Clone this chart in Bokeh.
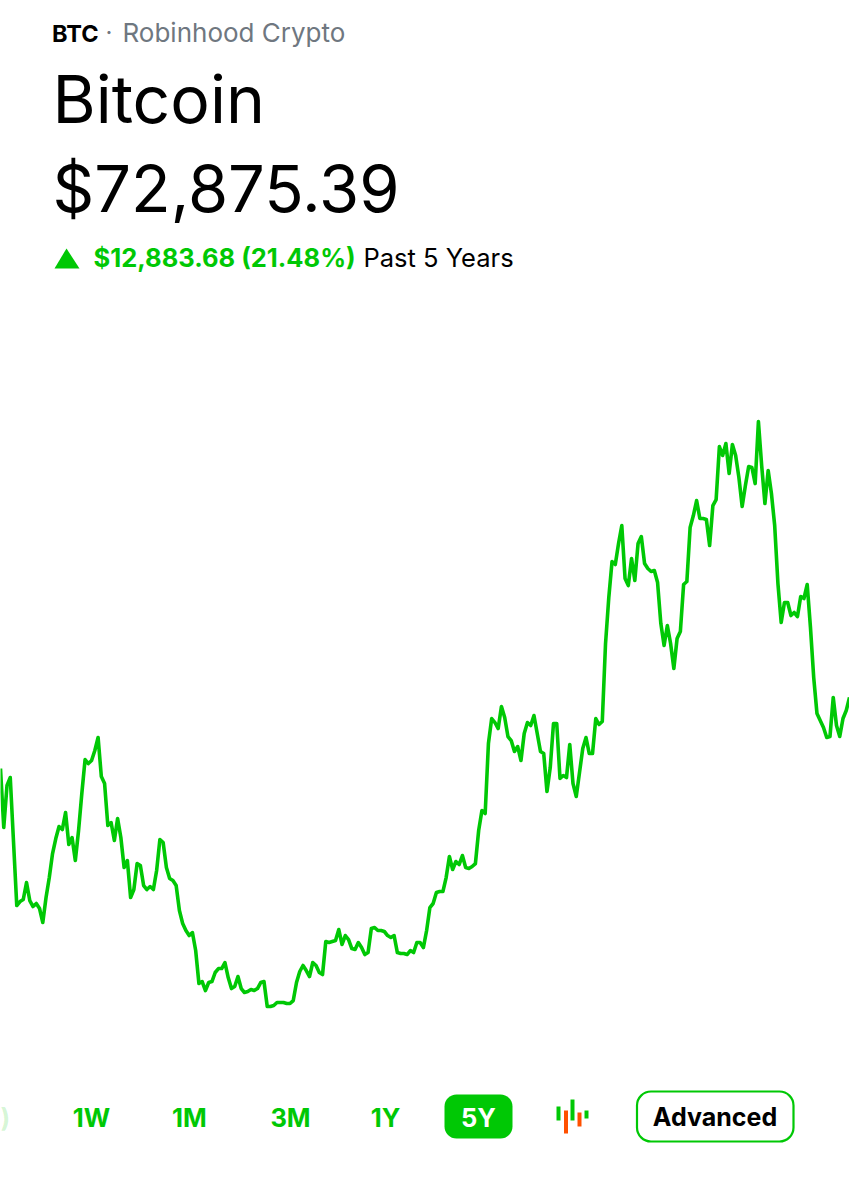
from bokeh.embed import file_html
from bokeh.resources import INLINE
from bokeh.plotting import figure
from bokeh.models import Range1d
from bokeh.core.properties import value

# Bitcoin price over the past five years, thousands of USD
price_k = [
 59.99,49.29,56.91,58.36,46.70,35.13,35.86,36.22,39.31,36.04,34.95,35.50,34.59,32.05,36.58,40.21,44.57,47.29,49.47,48.92,52.01,
 46.20,47.47,43.30,48.74,55.46,61.62,60.90,61.44,63.26,65.62,58.54,57.27,49.65,50.19,46.93,50.92,47.47,42.03,43.30,36.58,
 38.04,42.75,42.39,38.76,38.04,38.58,38.04,41.48,47.11,46.56,42.03,40.03,39.67,38.76,34.23,31.87,30.60,29.69,30.23,26.97,
 20.98,21.34,19.71,21.16,21.34,22.98,23.70,23.70,24.79,22.07,20.07,20.44,22.25,20.07,19.35,19.53,19.89,19.71,20.07,21.16,
 21.34,16.81,16.81,16.99,17.53,17.53,17.53,17.35,17.35,17.89,21.16,23.16,24.25,23.34,22.25,24.79,24.25,22.98,22.61,28.60,
 28.42,28.60,28.78,30.78,28.06,29.69,28.96,27.33,27.15,28.42,27.51,26.24,26.60,30.96,31.14,30.60,30.60,30.42,29.69,29.33,
 29.69,26.60,26.42,26.42,26.24,26.97,26.60,28.42,28.42,27.51,30.60,34.77,35.50,37.49,37.67,37.67,40.21,44.02,41.67,43.12,
 42.57,44.21,42.03,41.85,42.21,42.75,48.74,52.37,51.83,64.53,69.06,68.34,67.25,71.24,69.25,65.80,65.07,63.08,63.98,61.44,
 66.34,68.34,67.79,69.61,66.34,63.08,62.71,55.82,60.17,68.16,68.16,58.18,58.72,58.36,64.35,57.27,54.91,59.27,63.62,65.62,
 62.71,62.71,69.06,67.98,68.52,82.67,91.02,97.55,97.01,100.82,104.08,94.47,93.20,98.10,94.10,100.82,102.09,97.19,96.28,95.74,
 95.92,93.74,86.30,82.31,85.94,82.67,78.14,83.58,84.85,93.38,93.92,103.72,105.90,108.62,105.35,105.35,105.17,100.45,107.71,108.80,
 118.42,116.79,118.96,113.52,118.78,116.79,112.79,107.53,111.34,114.79,114.61,111.70,122.95,114.97,108.08,114.06,109.89,104.08,93.56,86.48,
 90.11,90.11,87.75,88.30,87.57,91.20,90.84,93.38,85.58,76.50,69.97,68.70,67.43,65.62,65.80,72.88,67.79,65.80,69.06,70.52,72.88,
]
period_index = list(range(len(price_k)))

ticker = "BTC"
separator = "·"
broker = "Robinhood Crypto"
name = "Bitcoin"
last_price = "$72,875.39"
change = "$12,883.68 (21.48%)"
period = "Past 5 Years"
ranges = ["1W", "1M", "3M", "1Y"]
active_range = "5Y"
advanced = "Advanced"

GREEN = "#00c805"
ORANGE = "#ff5000"
FONT = value("Inter")

W, H = 849, 1200
p = figure(width=W, height=H, output_backend="svg", toolbar_location=None,
           x_range=Range1d(0, len(price_k) - 1), y_range=Range1d(-18.39, 199.35),
           min_border=0, outline_line_color=None, background_fill_color="white")
p.axis.visible = False
p.grid.visible = False
p.extra_x_ranges = {"px": Range1d(0, W)}
p.extra_y_ranges = {"px": Range1d(H, 0)}

p.line(period_index, price_k, line_color=GREEN, line_width=3.6, line_join="round")


def t(x, y, s, size, color="#000000", style="normal", align="left", alpha=1.0):
    p.text([x], [y - 0.4 * size], text=[s], x_range_name="px", y_range_name="px", text_font=FONT,
           text_font_size=f"{size}px", text_color=color, text_font_style=style,
           text_align=align, text_baseline="alphabetic", text_alpha=alpha)


t(51.5, 42, ticker, 23.5, style="bold")
t(105, 42, separator, 24, color="#6f7780")
t(122, 42, broker, 26, color="#6f7780")
t(52, 125, name, 66)
t(52, 214, last_price, 65)
p.patch([54, 66, 79], [268, 248, 268], x_range_name="px", y_range_name="px",
        fill_color=GREEN, line_color=None)
t(93, 267, change, 25.5, color=GREEN, style="bold")
t(363, 267, period, 25.5)

# range selector
for s, x in zip(ranges, [91, 189, 290, 385]):
    t(x, 1127, s, 25.5, color=GREEN, style="bold", align="center")
p.quad(left=[444], right=[512], top=[1094], bottom=[1138], x_range_name="px", y_range_name="px",
       fill_color=GREEN, line_color=None, border_radius=12)
t(478, 1127, active_range, 25.5, color="#ffffff", style="bold", align="center")
t(0, 1127, ")", 26, color=GREEN, style="bold", alpha=0.18)

# candle icon
icon_x = [558, 565.5, 572, 579, 586]
icon_top = [1106, 1110, 1099, 1112, 1110]
icon_bottom = [1120, 1133, 1120, 1126, 1118]
icon_color = [GREEN, ORANGE, GREEN, ORANGE, GREEN]
p.segment(icon_x, icon_top, icon_x, icon_bottom, x_range_name="px", y_range_name="px",
          line_color=icon_color, line_width=4)

p.quad(left=[636.5], right=[793], top=[1091], bottom=[1141], x_range_name="px", y_range_name="px",
       fill_color="white", line_color=GREEN, line_width=2.2, border_radius=14)
t(714.5, 1126, advanced, 25, style="bold", align="center")

open("out.html", "w").write(file_html(p, INLINE))
